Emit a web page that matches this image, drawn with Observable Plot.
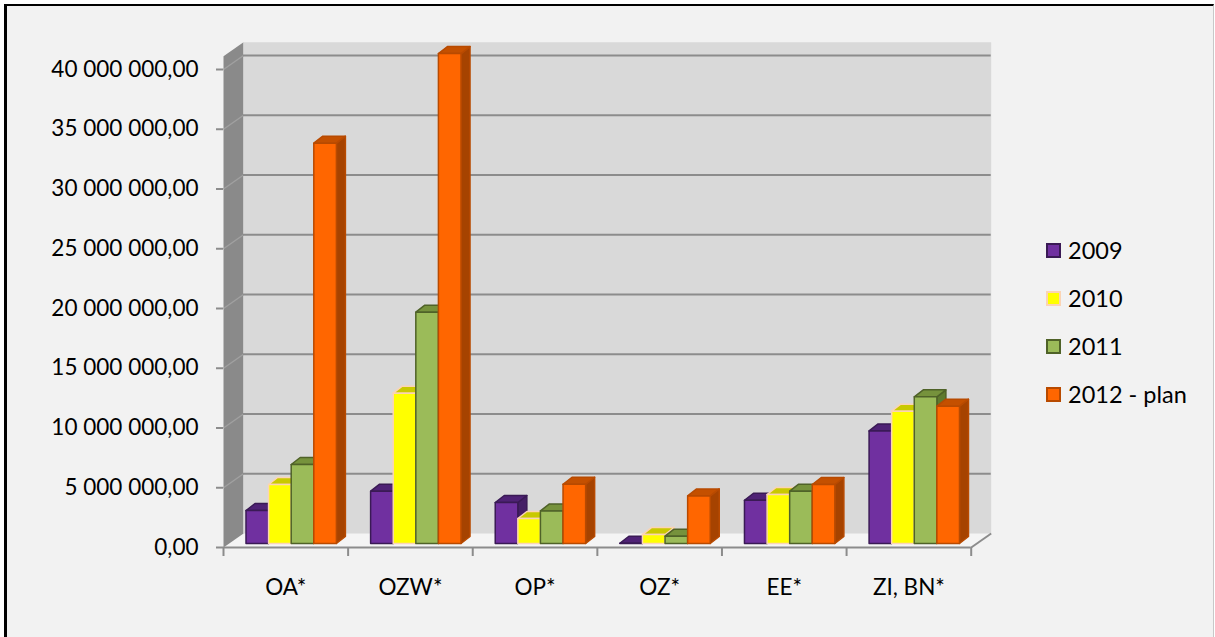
<!DOCTYPE html>
<html><head><meta charset="utf-8">
<script src="https://cdn.jsdelivr.net/npm/d3@7"></script>
<script src="https://cdn.jsdelivr.net/npm/@observablehq/plot@0.6"></script>
<style>
html,body{margin:0;padding:0;background:#fff;}
#frame{position:absolute;left:4px;top:4px;width:1210px;height:633px;background:#f2f2f2;border-left:3px solid #000;border-top:2px solid #000;border-right:1px solid #c8c8c8;box-sizing:border-box;}
#chart{position:absolute;left:0;top:0;}
#legend{position:absolute;left:1046px;top:226px;font-family:Lato,sans-serif;font-size:23.5px;color:#000;}
.item{display:flex;align-items:center;height:48px;}
.sw{width:15px;height:15px;box-sizing:border-box;border:2px solid;margin-right:7px;}
</style></head><body>
<div id="frame"></div><div id="chart"></div><div id="legend"></div>
<script>
// ---- data ----
const categories = ["OA*", "OZW*", "OP*", "OZ*", "EE*", "ZI, BN*"];
const seriesNames = ["2009", "2010", "2011", "2012 - plan"];
const values2009 = [2.76e6, 4.38e6, 3.43e6, 0.02e6, 3.62e6, 9.42e6];
const values2010 = [4.94e6, 12.58e6, 2.09e6, 0.75e6, 4.10e6, 11.07e6];
const values2011 = [6.61e6, 19.36e6, 2.73e6, 0.61e6, 4.38e6, 12.27e6];
const values2012 = [33.5e6, 41.0e6, 4.96e6, 3.98e6, 4.94e6, 11.49e6];
const yTicks = [0, 5e6, 10e6, 15e6, 20e6, 25e6, 30e6, 35e6, 40e6];
const seriesValues = [values2009, values2010, values2011, values2012];

// ---- styles ----
const palette = [
  {front: "#7030a0", top: "#4f2275", side: "#451f66", edge: "#3a1a55"},
  {front: "#ffff00", top: "#c9c900", side: "#b8b800", edge: "#fbd4b4"},
  {front: "#9bbb59", top: "#76923c", side: "#5f7a2e", edge: "#4f6228"},
  {front: "#ff6600", top: "#c45000", side: "#a64300", edge: "#b84a00"}
];

// ---- geometry (pixels converted into scale units) ----
const W = 1215, H = 637;
const X0 = 223, X1 = 970.7, Y0 = 547, Y40 = 69;
const nCat = categories.length;
const ux = nCat / (X1 - X0);
const uy = 40e6 / (Y0 - Y40);
const wallDX = 20 * ux, wallDY = 14 * uy, wallTop = 41.1e6;
const barOff = 22.5 * ux, barW = 22.6 * ux, barLift = 4 * uy, depX = 9 * ux, depY = 7 * uy;

const fmt = d3.formatLocale({decimal: ",", thousands: " ", grouping: [3], currency: ["", ""]}).format(",.2f");

function addPoly(arr, key, pts, fill, stroke) {
  pts.forEach(([x, y]) => arr.push({key, x, y, fill, stroke}));
}

// walls
const walls = [];
addPoly(walls, "floor", [[0, 0], [nCat, 0], [nCat + wallDX, wallDY], [wallDX, wallDY]], "#f4f4f4", "none");
addPoly(walls, "side", [[0, 0], [0, wallTop], [wallDX, wallTop + wallDY], [wallDX, wallDY]], "#8a8a8a", "none");
addPoly(walls, "back", [[wallDX, wallDY], [nCat + wallDX, wallDY], [nCat + wallDX, wallTop + wallDY], [wallDX, wallTop + wallDY]], "#d9d9d9", "none");

// bars
const bars = [];
categories.forEach((c, i) => {
  seriesValues.forEach((vals, j) => {
    const v = vals[i], p = palette[j];
    const xa = i + barOff + j * barW, xb = xa + barW;
    const yb = barLift, yt = barLift + v;
    const k = `${i}-${j}`;
    addPoly(bars, k + "s", [[xb, yb], [xb + depX, yb + depY], [xb + depX, yt + depY], [xb, yt]], p.side, p.edge);
    addPoly(bars, k + "t", [[xa, yt], [xb, yt], [xb + depX, yt + depY], [xa + depX, yt + depY]], p.top, p.edge);
    addPoly(bars, k + "f", [[xa, yb], [xb, yb], [xb, yt], [xa, yt]], p.front, p.edge);
  });
});

const gridTicks = yTicks.filter(t => t > 0);

const chart = Plot.plot({
  width: W, height: H,
  marginLeft: X0, marginRight: W - X1, marginTop: Y40, marginBottom: H - Y0,
  x: {type: "linear", domain: [0, nCat]},
  y: {type: "linear", domain: [0, 40e6]},
  color: {type: "identity"},
  style: {background: "transparent", fontFamily: "Lato, sans-serif", fontSize: "22px", color: "#000", overflow: "visible"},
  marks: [
    Plot.line(walls, {x: "x", y: "y", z: "key", fill: "fill", stroke: "stroke", curve: "linear-closed"}),
    Plot.link(gridTicks, {x1: 0, y1: d => d, x2: wallDX, y2: d => d + wallDY, stroke: "#a0a0a0", strokeWidth: 1.5}),
    Plot.ruleY(gridTicks, {y: d => d + wallDY, x1: wallDX, x2: nCat + wallDX, stroke: "#8c8c8c", strokeWidth: 2}),
    Plot.link([0], {x1: nCat, y1: 0, x2: nCat + wallDX, y2: wallDY, stroke: "#8c8c8c", strokeWidth: 2}),
    Plot.ruleY([0], {x1: 0, x2: nCat, stroke: "#8c8c8c", strokeWidth: 2}),
    Plot.line(bars, {x: "x", y: "y", z: "key", fill: "fill", stroke: "stroke", strokeWidth: 1.5, curve: "linear-closed"}),
    Plot.axisY({ticks: yTicks, tickSize: 7, tickPadding: 18, tickFormat: fmt, stroke: "#8c8c8c", strokeWidth: 2, fill: "#000", fontSize: 22.5, label: null}),
    Plot.axisX({ticks: d3.range(nCat + 1), tickSize: 9, tickFormat: () => "", stroke: "#8c8c8c", strokeWidth: 2, label: null}),
    Plot.axisX({ticks: categories.map((c, i) => i + 0.5), tickSize: 0, tickPadding: 32, tickFormat: d => categories[Math.round(d - 0.5)], fill: "#000", fontSize: 22.5, label: null})
  ]
});
document.getElementById("chart").appendChild(chart);

// legend
const legend = document.getElementById("legend");
seriesNames.forEach((name, j) => {
  const item = document.createElement("div");
  item.className = "item";
  const sw = document.createElement("div");
  sw.className = "sw";
  sw.style.background = palette[j].front;
  sw.style.borderColor = palette[j].edge;
  const t = document.createElement("span");
  t.textContent = name;
  item.appendChild(sw); item.appendChild(t);
  legend.appendChild(item);
});
</script></body></html>
